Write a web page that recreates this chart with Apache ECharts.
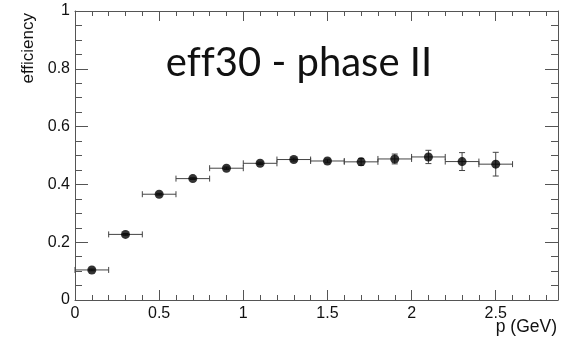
<!DOCTYPE html>
<html>
<head>
<meta charset="utf-8">
<script src="https://cdn.jsdelivr.net/npm/echarts@6/dist/echarts.min.js"></script>
<style>
  html, body { margin: 0; padding: 0; background: #fff; }
  #chart { width: 574px; height: 342px; }
</style>
</head>
<body>
<div id="chart"></div>
<script>
// momentum bin centres (GeV) and half widths
const pCenters = [0.1, 0.3, 0.5, 0.7, 0.9, 1.1, 1.3, 1.5, 1.7, 1.9, 2.1, 2.3, 2.5]
const pHalfWidth = [0.1, 0.1, 0.1, 0.1, 0.1, 0.1, 0.1, 0.1, 0.1, 0.1, 0.1, 0.1, 0.1]
// efficiency and its error
const eff = [0.104, 0.227, 0.366, 0.420, 0.456, 0.473, 0.486, 0.481, 0.478, 0.488, 0.495, 0.479, 0.470]
const effErr = [0.003, 0.003, 0.003, 0.003, 0.004, 0.004, 0.005, 0.006, 0.012, 0.017, 0.023, 0.031, 0.041]

const xTicks = { min: 0, max: 2.87, interval: 0.5 }
const yTicks = { min: 0, max: 1, interval: 0.2 }

const points = pCenters.map((p, i) => [p, eff[i], pHalfWidth[i], effErr[i]])

const chart = echarts.init(document.getElementById("chart"))

const axisColor = "#555"
const labelFont = { color: "#111", fontSize: 16, fontFamily: "Liberation Sans" }

const baseX = {
  type: "value",
  min: xTicks.min,
  max: xTicks.max,
  interval: xTicks.interval,
  axisLine: { show: true, onZero: false, lineStyle: { color: axisColor, width: 1 } },
  axisTick: { show: true, inside: true, length: 10, lineStyle: { color: axisColor } },
  minorTick: { show: true, splitNumber: 5, length: 5, lineStyle: { color: axisColor } },
  splitLine: { show: false },
}
const baseY = {
  type: "value",
  min: yTicks.min,
  max: yTicks.max,
  interval: yTicks.interval,
  axisLine: { show: true, onZero: false, lineStyle: { color: axisColor, width: 1 } },
  axisTick: { show: true, inside: true, length: 13, lineStyle: { color: axisColor } },
  minorTick: { show: true, splitNumber: 4, length: 7, lineStyle: { color: axisColor } },
  splitLine: { show: false },
}

function renderErrors(params, api) {
  const x = api.value(0), y = api.value(1), xe = api.value(2), ye = api.value(3)
  const l = api.coord([x - xe, y])
  const r = api.coord([x + xe, y])
  const t = api.coord([x, y + ye])
  const b = api.coord([x, y - ye])
  const cap = 3
  const style = { stroke: "#444", lineWidth: 1 }
  const line = (x1, y1, x2, y2) => ({ type: "line", shape: { x1, y1, x2, y2 }, style })
  return {
    type: "group",
    children: [
      line(l[0], l[1], r[0], r[1]),
      line(l[0], l[1] - cap, l[0], l[1] + cap),
      line(r[0], r[1] - cap, r[0], r[1] + cap),
      line(t[0], t[1], b[0], b[1]),
      line(t[0] - cap, t[1], t[0] + cap, t[1]),
      line(b[0] - cap, b[1], b[0] + cap, b[1]),
    ],
  }
}

chart.setOption({
  backgroundColor: "#fff",
  animation: false,
  grid: { left: 75, right: 16, top: 11, bottom: 42 },
  title: {
    // zero-width non-joiner keeps the two f's apart
    text: "ef\u200Cf30 - phase II",
    left: 294,
    top: 38,
    textAlign: "center",
    textStyle: { fontFamily: "Lato", fontWeight: "normal", fontSize: 40, color: "#111" },
  },
  graphic: [
    {
      type: "text",
      x: 28,
      y: 13,
      rotation: Math.PI / 2,
      style: { text: "efficiency", align: "right", verticalAlign: "middle", fontSize: 17, fontFamily: "Liberation Sans", fill: "#111" },
    },
    {
      type: "text",
      x: 557,
      y: 327,
      style: { text: "p (GeV)", align: "right", verticalAlign: "middle", fontSize: 17.5, fontFamily: "Liberation Sans", fill: "#111" },
    },
  ],
  xAxis: [
    Object.assign({}, baseX, {
      position: "bottom",
      axisLabel: Object.assign({ margin: 6, showMaxLabel: false }, labelFont),
    }),
    Object.assign({}, baseX, { position: "top", axisLabel: { show: false } }),
  ],
  yAxis: [
    Object.assign({}, baseY, {
      position: "left",
      axisLabel: Object.assign({ margin: 5 }, labelFont),
    }),
    Object.assign({}, baseY, { position: "right", axisLabel: { show: false } }),
  ],
  series: [
    {
      type: "custom",
      renderItem: renderErrors,
      data: points,
      z: 2,
    },
    {
      type: "scatter",
      data: points.map((d) => [d[0], d[1]]),
      symbol: "circle",
      symbolSize: 9,
      itemStyle: { color: "#000" },
      z: 3,
    },
  ],
})
</script>
</body>
</html>
